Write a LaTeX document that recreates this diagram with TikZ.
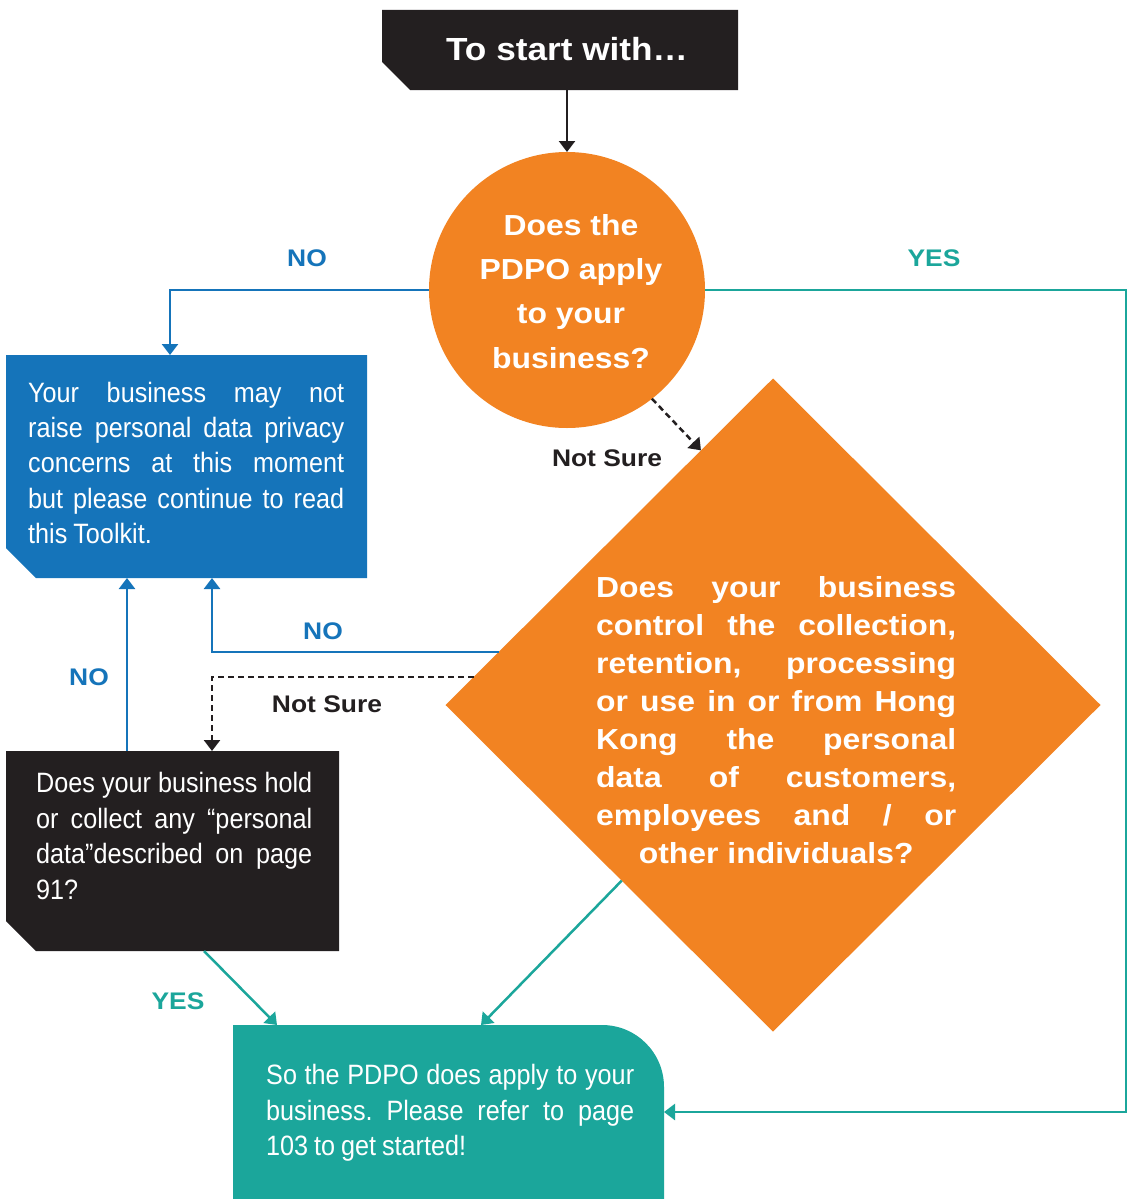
\documentclass[tikz,border=0pt]{standalone}
\usepackage{fontspec}
\setmainfont{Liberation Sans}
\newfontfamily\widefont[FakeStretch=1.1]{Liberation Sans}
\newfontfamily\condfont[FakeStretch=0.9,WordSpace=0.85]{Liberation Sans}
\usetikzlibrary{shapes.geometric,arrows.meta,calc}
\definecolor{pdorange}{RGB}{242,131,34}
\definecolor{pdblue}{RGB}{21,116,186}
\definecolor{pdteal}{RGB}{27,166,155}
\definecolor{pdblack}{RGB}{35,31,32}
\frenchspacing
% one justified line of fixed width
\newcommand\jline[2]{\makebox[#1][s]{#2}}

\begin{document}
\begin{tikzpicture}[x=1pt,y=-1pt,
  shapebox/.style={rectangle,inner sep=0pt,outer sep=0pt},
  link/.style={line width=2.5pt,-{Triangle[width=16pt,length=11pt]}},
  notsure/.style={link,draw=pdblack,dash pattern=on 6pt off 4pt},
  lbl/.style={inner sep=0pt,font=\widefont\bfseries\fontsize{24}{24}\selectfont},
  body/.style={text=white,inner sep=0pt,anchor=base west,align=left,
    font=\condfont\fontsize{28}{35.4}\selectfont},
  bold/.style={text=white,inner sep=0pt,font=\widefont\bfseries\fontsize{29}{37.9}\selectfont}]

\useasboundingbox[fill=white] (0,0) rectangle (1132,1199);

% ---- shapes ----
\node[shapebox,minimum width=356pt,minimum height=80pt] (start) at (560,50) {};
\fill[pdblack] (start.north west) -- (start.north east) -- (start.south east)
  -- ([xshift=28pt]start.south west) -- ([yshift=28pt]start.south west) -- cycle;

\node[circle,fill=pdorange,inner sep=0pt,outer sep=0pt,minimum size=276pt] (q1) at (567,290) {};

\node[diamond,fill=pdorange,inner sep=0pt,outer sep=0pt,aspect=1,
  minimum width=655pt,minimum height=653pt] (q2) at (773,705) {};

\node[shapebox,minimum width=361pt,minimum height=223pt] (blue) at (186.5,466.5) {};
\fill[pdblue] (blue.north west) -- (blue.north east) -- (blue.south east)
  -- ([xshift=30pt]blue.south west) -- ([yshift=30pt]blue.south west) -- cycle;

\node[shapebox,minimum width=333pt,minimum height=200pt] (qb) at (172.5,851) {};
\fill[pdblack] (qb.north west) -- (qb.north east) -- (qb.south east)
  -- ([xshift=30pt]qb.south west) -- ([yshift=30pt]qb.south west) -- cycle;

\node[shapebox,minimum width=431pt,minimum height=174pt] (teal) at (448.5,1112) {};
\fill[pdteal] (teal.south west) -- (teal.north west) -- ([xshift=-62pt]teal.north east)
  arc[start angle=90,end angle=0,radius=62pt] -- (teal.south east) -- cycle;

% ---- texts (base anchor = baseline of the last line) ----
\node[text=white,inner sep=0pt,anchor=base,font=\widefont\bfseries\fontsize{32}{32}\selectfont]
  (starttext) at (567,60) {To start with…};

\node[bold,anchor=base,align=center,font=\widefont\bfseries\fontsize{29}{44.3}\selectfont]
  (q1text) at (571,368) {Does the\\PDPO apply\\to your\\business?};

\node[bold,anchor=base west,align=left] (q2text) at (596,863)
  {\jline{360pt}{Does your business}\\
   \jline{360pt}{control the collection,}\\
   \jline{360pt}{retention, processing}\\
   \jline{360pt}{or use in or from Hong}\\
   \jline{360pt}{Kong the personal}\\
   \jline{360pt}{data of customers,}\\
   \jline{360pt}{employees and / or}\\
   \makebox[360pt][c]{other individuals?}};

\node[body] (bluetext) at (28,543.6)
  {\jline{316pt}{Your business may not}\\
   \jline{316pt}{raise personal data privacy}\\
   \jline{316pt}{concerns at this moment}\\
   \jline{316pt}{but please continue to read}\\
   this Toolkit.};

\node[body] (qbtext) at (36,899)
  {\jline{276pt}{Does your business hold}\\
   \jline{276pt}{or collect any “personal}\\
   \jline{276pt}{data”described on page}\\
   91?};

\node[body] (tealtext) at (266,1155.5)
  {\jline{368pt}{So the PDPO does apply to your}\\
   \jline{368pt}{business. Please refer to page}\\
   103 to get started!};

% ---- labels ----
\node[lbl,text=pdblue] (no1) at (307,258) {NO};
\node[lbl,text=pdteal] (yes1) at (934,258) {YES};
\node[lbl,text=pdblack] (ns1) at (607,458) {Not Sure};
\node[lbl,text=pdblue] (no2) at (323,631) {NO};
\node[lbl,text=pdblack] (ns2) at (327,704) {Not Sure};
\node[lbl,text=pdblue] (no3) at (89,677) {NO};
\node[lbl,text=pdteal] (yes2) at (178,1001) {YES};

% ---- connectors ----
\coordinate (rightturn) at (1126,290);
\draw[link,pdblack] (q1.north |- start.south) -- (q1.north);
\draw[link,pdblue] (q1.west) -| ([xshift=-16.5pt]blue.north);
\draw[link,pdteal] (q1.east) -- (rightturn) |- (teal.east);
\draw[notsure] (q1.-52) -- ($(q2.north)!0.22!(q2.west)$);
\draw[link,pdblue] ($(q2.north)!0.837!(q2.west)$) -| ([xshift=25.5pt]blue.south);
\draw[notsure] ($(q2.north)!0.914!(q2.west)$) -| ([xshift=39.5pt]qb.north);
\draw[link,pdblue] ([xshift=-45.5pt]qb.north) -- ([xshift=-59.5pt]blue.south);
\draw[link,pdteal] ([xshift=31.5pt]qb.south) -- ([xshift=-171.5pt]teal.north);
\draw[link,pdteal] ($(q2.west)!0.538!(q2.south)$) -- ([xshift=32.5pt]teal.north);
\end{tikzpicture}
\end{document}
